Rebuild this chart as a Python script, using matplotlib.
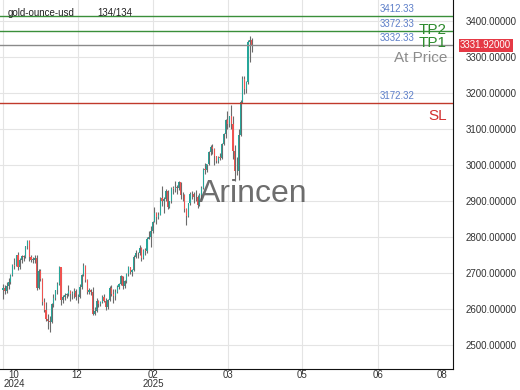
import matplotlib
matplotlib.use("Agg")
import matplotlib.pyplot as plt
import matplotlib.transforms as mtransforms
import numpy as np

plt.rcParams['font.family'] = ['Liberation Sans', 'DejaVu Sans']

close = [2657, 2650, 2662, 2674, 2693, 2721, 2720, 2748, 2715, 2736,
         2747, 2743, 2774, 2788, 2743, 2736, 2736, 2742, 2659, 2706,
         2684, 2618, 2598, 2572, 2565, 2563, 2612, 2631, 2651, 2670,
         2715, 2625, 2633, 2639, 2641, 2650, 2640, 2643, 2650, 2632,
         2633, 2660, 2694, 2718, 2680, 2648, 2652, 2647, 2586, 2594,
         2622, 2612, 2618, 2633, 2621, 2606, 2624, 2658, 2640, 2636,
         2648, 2661, 2670, 2690, 2662, 2677, 2697, 2715, 2702, 2708,
         2745, 2755, 2754, 2770, 2740, 2763, 2760, 2795, 2798, 2815,
         2842, 2867, 2856, 2861, 2908, 2898, 2905, 2928, 2882, 2898,
         2935, 2933, 2939, 2936, 2952, 2915, 2916, 2876, 2858, 2893,
         2918, 2920, 2910, 2910, 2889, 2916, 2935, 2988, 2984, 3001,
         3034, 3048, 3043, 3023, 3011, 3020, 3019, 3057, 3084, 3123,
         3113, 3134, 3114, 3037, 2982, 2982, 3083, 3175, 3237, 3210,
         3229, 3341, 3346, 3331.92]
high = [2670, 2666, 2674, 2685, 2697, 2725, 2740, 2750, 2758, 2742,
        2750, 2748, 2775, 2790, 2790, 2750, 2745, 2750, 2748, 2710,
        2710, 2686, 2630, 2618, 2585, 2580, 2615, 2640, 2652, 2675,
        2720, 2712, 2637, 2645, 2645, 2665, 2652, 2650, 2658, 2655,
        2640, 2668, 2698, 2726, 2722, 2682, 2658, 2656, 2660, 2605,
        2630, 2625, 2622, 2638, 2640, 2630, 2628, 2663, 2665, 2655,
        2655, 2665, 2672, 2695, 2690, 2680, 2700, 2720, 2716, 2710,
        2748, 2762, 2758, 2776, 2772, 2765, 2770, 2798, 2815, 2830,
        2845, 2882, 2870, 2870, 2910, 2942, 2910, 2932, 2930, 2900,
        2938, 2940, 2955, 2945, 2956, 2952, 2925, 2918, 2880, 2895,
        2925, 2928, 2925, 2930, 2915, 2922, 2940, 2990, 3005, 3002,
        3038, 3055, 3057, 3045, 3025, 3025, 3032, 3060, 3087, 3128,
        3149, 3136, 3167, 3136, 3055, 3020, 3100, 3180, 3245, 3245,
        3232, 3345, 3357, 3352]
low = [2628, 2642, 2645, 2656, 2668, 2690, 2710, 2718, 2708, 2710,
       2728, 2732, 2740, 2765, 2733, 2730, 2728, 2728, 2652, 2656,
       2678, 2610, 2590, 2565, 2545, 2537, 2560, 2605, 2625, 2640,
       2665, 2610, 2615, 2625, 2630, 2635, 2622, 2628, 2630, 2625,
       2615, 2630, 2656, 2690, 2675, 2642, 2642, 2638, 2583, 2584,
       2592, 2605, 2608, 2615, 2618, 2598, 2600, 2622, 2635, 2615,
       2625, 2643, 2655, 2666, 2655, 2658, 2672, 2690, 2698, 2692,
       2705, 2740, 2742, 2750, 2732, 2738, 2750, 2755, 2795, 2772,
       2810, 2840, 2835, 2850, 2860, 2885, 2865, 2900, 2878, 2880,
       2895, 2920, 2925, 2920, 2930, 2905, 2900, 2870, 2832, 2855,
       2888, 2905, 2895, 2900, 2880, 2885, 2905, 2932, 2975, 2980,
       3000, 3028, 3030, 3000, 3005, 3005, 3012, 3015, 3055, 3075,
       3100, 3105, 3100, 3015, 2956, 2970, 2958, 3080, 3170, 3195,
       3200, 3225, 3285, 3312]
first_open = 2652

y_ticks = [2500, 2600, 2700, 2800, 2900, 3000, 3100, 3200, 3300, 3400]
grid_pos = [0, 40.1, 80.2, 120.3, 159.9, 200.5, 240.6]
x_label_pos = [5.9, 39.6, 80.2, 120.3, 159.9, 200.5, 234.8]
x_labels = ["10\n2024", "12", "02\n2025", "03", "05", "06", "08"]

levels = [3412.33, 3372.33, 3332.33, 3172.32]
level_labels = ["3412.33", "3372.33", "3332.33", "3172.32"]
level_colors = ["#3a8f3a", "#3a8f3a", "#8a8a8a", "#c0392b"]
last_price = 3331.92
symbol = "gold-ounce-usd"
count_text = "134/134"
watermark = "Arincen"

fig = plt.figure(figsize=(5.2, 3.9), dpi=100)
ax = fig.add_axes([0, 21/390, 453/520, 369/390])

n = len(close)
x = np.arange(n)
opens = [first_open] + close[:-1]
up_col, dn_col = "#26a69a", "#ef5350"
cols = [up_col if c >= o else dn_col for o, c in zip(opens, close)]

ax.vlines(x, low, high, color="#6b6b6b", linewidth=0.8, zorder=3)
bodies_bottom = [min(o, c) for o, c in zip(opens, close)]
bodies_h = [max(abs(c - o), 1.5) for o, c in zip(opens, close)]
ax.bar(x, bodies_h, bottom=bodies_bottom, width=0.6, color=cols, linewidth=0, zorder=4)

ax.set_xlim(-1.6, 240.6)
ax.set_ylim(2433, 3457)

ax.set_yticks(y_ticks)
ax.yaxis.tick_right()
ax.set_yticklabels([f"{v:.5f}" for v in y_ticks])
ax.tick_params(axis='y', length=0, pad=9, labelsize=7, labelcolor="#333333")

ax.set_xticks(grid_pos)
ax.set_xticklabels([""] * len(grid_pos))
ax.tick_params(axis='x', length=0)

xtrans = mtransforms.blended_transform_factory(ax.transData, ax.transAxes)
for pos, lab in zip(x_label_pos, x_labels):
    ax.text(pos, -1.5/369, lab, transform=xtrans, fontsize=7, color="#333333",
            ha='center', va='top', linespacing=0.85, clip_on=False)

ax.grid(True, which='major', color="#e4e4e4", linewidth=0.8, zorder=0)
for s in ["left", "top"]:
    ax.spines[s].set_visible(False)
ax.spines["right"].set_color("#111111")
ax.spines["bottom"].set_color("#111111")

trans = mtransforms.blended_transform_factory(ax.transAxes, ax.transData)
for lv, lab, c in zip(levels, level_labels, level_colors):
    ax.axhline(lv, color=c, linewidth=1.0, zorder=5)
    ax.text(380/453, lv + 5, lab, transform=trans, fontsize=7, color="#5d7fc9",
            ha='left', va='bottom', zorder=6)

ax.text(447/453, 3374, "TP2", transform=trans, fontsize=11, color="#2e8b2e", ha='right', va='center', zorder=6)
ax.text(447/453, 3337, "TP1", transform=trans, fontsize=11, color="#2e8b2e", ha='right', va='center', zorder=6)
ax.text(447/453, 3296, "At Price", transform=trans, fontsize=11, color="#8c8c8c", ha='right', va='center', zorder=6)
ax.text(447/453, 3135, "SL", transform=trans, fontsize=11, color="#d32f2f", ha='right', va='center', zorder=6)

ax.text(460/453, last_price, f"{last_price:.5f}", transform=trans, fontsize=7, color="white",
        ha='left', va='center', clip_on=False, zorder=7,
        bbox=dict(boxstyle="square,pad=0.15", facecolor="#e53945", edgecolor="none"))

ax.text(253/453, 1 - 194/369, watermark, transform=ax.transAxes, fontsize=23, color="#555555",
        alpha=0.85, ha='center', va='center', zorder=8)

ax.text(8/453, 1 - 13/369, symbol, transform=ax.transAxes, fontsize=7, color="#222222",
        ha='left', va='center', zorder=8)
ax.text(97/453, 1 - 13/369, count_text, transform=ax.transAxes, fontsize=7, color="#222222",
        ha='left', va='center', zorder=8)

fig.savefig("out.png", dpi=100)
